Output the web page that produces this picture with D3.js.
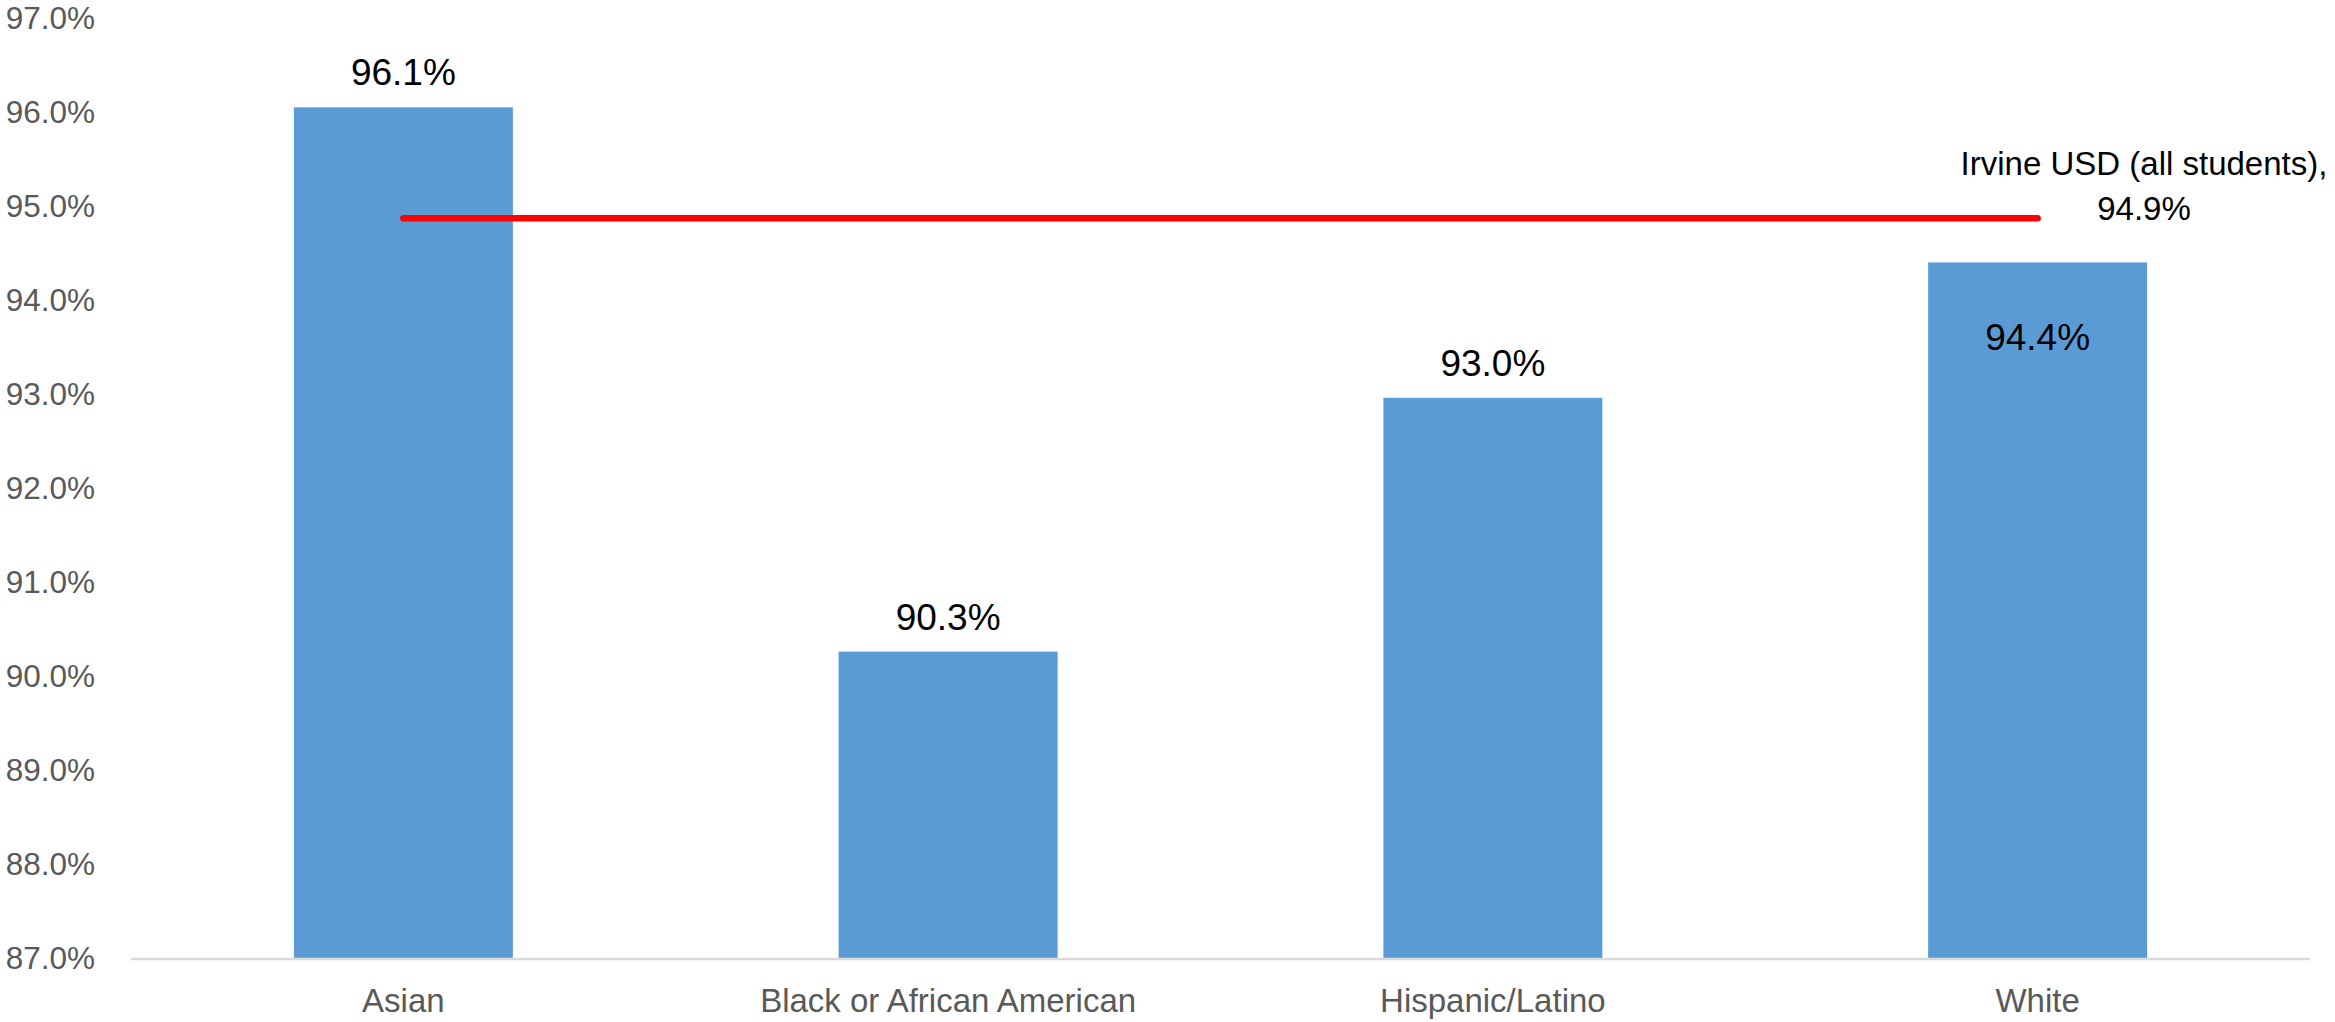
<!DOCTYPE html>
<html>
<head>
<meta charset="utf-8">
<script src="https://cdn.jsdelivr.net/npm/d3@7"></script>
<style>
    body { margin: 0; background: #fff; }
    svg { display: block; font-family: "Liberation Sans", Arial, sans-serif; }
</style>
</head>
<body>
<script>
// ---------------------- DATA ----------------------

const categories = ["Asian", "Black or African American", "Hispanic/Latino", "White"];
const rates = [96.06, 90.27, 92.97, 94.41];
const rateLabels = ["96.1%", "90.3%", "93.0%", "94.4%"];
const districtRate = 94.88;
const districtLabel = ["Irvine USD (all students),", "94.9%"];
const yTicks = [87, 88, 89, 90, 91, 92, 93, 94, 95, 96, 97];

// ---------------------- MAIN RENDER FUNCTION ----------------------

function renderChart() {
    const width = 2335;
    const height = 1022;

    const svg = d3.select("body").append("svg")
        .attr("width", width)
        .attr("height", height);

    const x = d3.scaleBand()
        .domain(categories)
        .range([131, 2310])
        .paddingInner(0.598)
        .paddingOuter(0.299);

    const y = d3.scaleLinear()
        .domain([87, 97])
        .range([959, 19]);

    // y tick labels (no gridlines in the original)
    svg.append("g")
        .selectAll("text")
        .data(yTicks)
        .enter().append("text")
        .attr("x", 95)
        .attr("y", d => y(d))
        .attr("dy", "0.33em")
        .attr("text-anchor", "end")
        .style("font-size", "31.5px")
        .style("fill", "#595959")
        .text(d => d.toFixed(1) + "%");

    // bars
    svg.append("g")
        .selectAll("rect")
        .data(rates)
        .enter().append("rect")
        .attr("x", (d, i) => x(categories[i]))
        .attr("y", d => y(d))
        .attr("width", x.bandwidth())
        .attr("height", d => y(87) - y(d))
        .style("fill", "#5b9bd5");

    // category axis line
    svg.append("line")
        .attr("x1", x.range()[0])
        .attr("x2", x.range()[1])
        .attr("y1", y(87))
        .attr("y2", y(87))
        .style("stroke", "#d9d9d9")
        .style("stroke-width", 2.5);

    // category labels (kept just inside the bottom edge)
    svg.append("g")
        .selectAll("text")
        .data(categories)
        .enter().append("text")
        .attr("x", d => x(d) + x.bandwidth() / 2)
        .attr("y", 1012)
        .attr("text-anchor", "middle")
        .style("font-size", "33px")
        .style("fill", "#595959")
        .text(d => d);

    // bar value labels; White sits inside its bar, under the district label
    svg.append("g")
        .selectAll("text")
        .data(rates)
        .enter().append("text")
        .attr("x", (d, i) => x(categories[i]) + x.bandwidth() / 2)
        .attr("y", (d, i) => categories[i] === "White" ? y(d) + 88 : y(d) - 22)
        .attr("text-anchor", "middle")
        .style("font-size", "37px")
        .style("fill", "#000")
        .text((d, i) => rateLabels[i]);

    // district average line from first to last category centre
    const first = categories[0];
    const last = categories[categories.length - 1];
    svg.append("line")
        .attr("x1", x(first) + x.bandwidth() / 2)
        .attr("x2", x(last) + x.bandwidth() / 2)
        .attr("y1", y(districtRate))
        .attr("y2", y(districtRate))
        .style("stroke", "#ff0000")
        .style("stroke-width", 6.5)
        .style("stroke-linecap", "round");

    svg.append("text")
        .attr("x", 2144)
        .attr("y", y(districtRate) - 43)
        .attr("text-anchor", "middle")
        .style("font-size", "33px")
        .style("fill", "#000")
        .selectAll("tspan")
        .data(districtLabel)
        .enter().append("tspan")
        .attr("x", 2144)
        .attr("dy", (d, i) => i === 0 ? 0 : 45)
        .text(d => d);
}

// ---------------------- INITIALIZE ----------------------

renderChart();
</script>
</body>
</html>
